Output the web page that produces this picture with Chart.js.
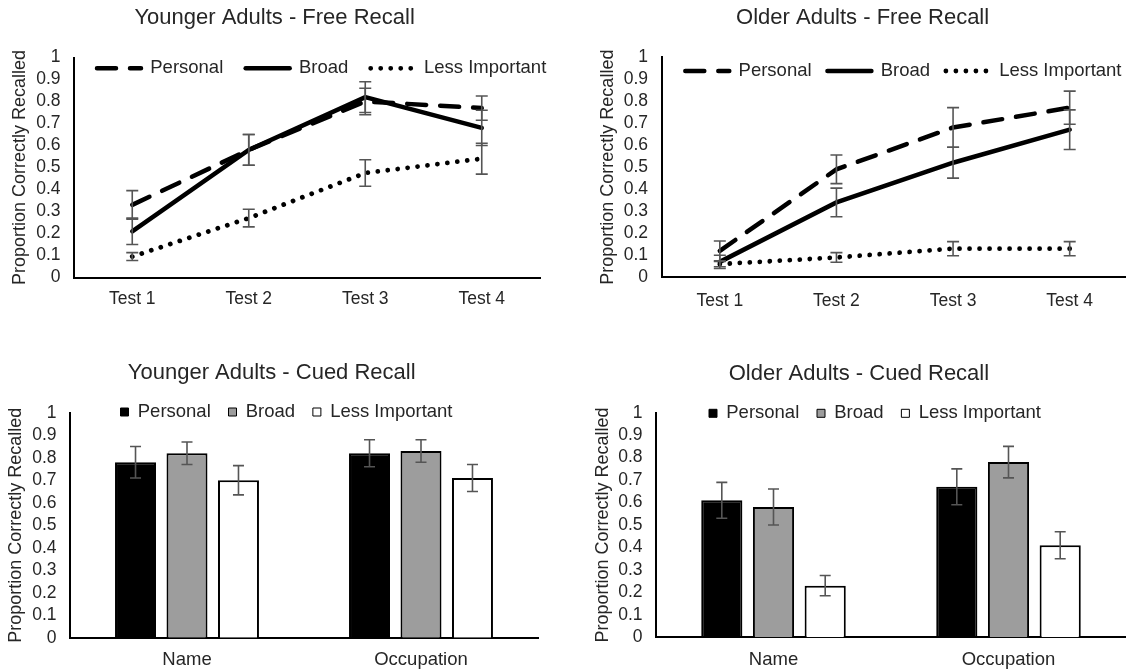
<!DOCTYPE html>
<html>
<head>
<meta charset="utf-8">
<script src="https://cdn.jsdelivr.net/npm/chart.js@4/dist/chart.umd.min.js"></script>
<style>
html, body { margin: 0; padding: 0; background: #fff; overflow: hidden; width: 1126px; height: 670px; }
canvas { position: absolute; }
</style>
</head>
<body>
<canvas id="c1" width="563" height="335" style="left:0px;top:0px"></canvas>
<canvas id="c2" width="566" height="335" style="left:563px;top:0px"></canvas>
<canvas id="c3" width="563" height="335" style="left:0px;top:335px"></canvas>
<canvas id="c4" width="563" height="335" style="left:563px;top:335px"></canvas>
<script>
// ---------------- DATA ----------------
const freeCategories = ['Test 1', 'Test 2', 'Test 3', 'Test 4'];
const cuedCategories = ['Name', 'Occupation'];
const seriesNames = ['Personal', 'Broad', 'Less Important'];
const yAxisTitle = 'Proportion Correctly Recalled';
const panelTitles = ['Younger Adults - Free Recall', 'Older Adults - Free Recall',
                     'Younger Adults - Cued Recall', 'Older Adults - Cued Recall'];

// Younger adults - free recall
const youngFreePersonal    = [0.33, 0.58, 0.80, 0.77];
const youngFreeBroad       = [0.21, 0.58, 0.82, 0.68];
const youngFreeLess        = [0.095, 0.27, 0.475, 0.54];
const youngFreePersonalErr = [0.065, 0.07, 0.06, 0.055];
const youngFreeBroadErr    = [0.06, 0.07, 0.07, 0.08];
const youngFreeLessErr     = [0.018, 0.04, 0.06, 0.07];

// Older adults - free recall
const oldFreePersonal    = [0.12, 0.49, 0.68, 0.77];
const oldFreeBroad       = [0.07, 0.34, 0.52, 0.67];
const oldFreeLess        = [0.06, 0.09, 0.13, 0.13];
const oldFreePersonalErr = [0.045, 0.065, 0.09, 0.075];
const oldFreeBroadErr    = [0.03, 0.065, 0.07, 0.09];
const oldFreeLessErr     = [0.012, 0.022, 0.032, 0.032];

// Younger adults - cued recall
const youngCuedPersonal    = [0.78, 0.82];
const youngCuedBroad       = [0.82, 0.83];
const youngCuedLess        = [0.70, 0.71];
const youngCuedPersonalErr = [0.07, 0.06];
const youngCuedBroadErr    = [0.05, 0.05];
const youngCuedLessErr     = [0.065, 0.06];

// Older adults - cued recall
const oldCuedPersonal    = [0.61, 0.67];
const oldCuedBroad       = [0.58, 0.78];
const oldCuedLess        = [0.23, 0.41];
const oldCuedPersonalErr = [0.08, 0.08];
const oldCuedBroadErr    = [0.08, 0.07];
const oldCuedLessErr     = [0.045, 0.06];

// ---------------- STYLE ----------------
const FONT = "'Liberation Sans', Arial, sans-serif";
const TEXT = '#262626';
const ERR_COLOR = '#555555';

const errorBarPlugin = {
  id: 'errorBars',
  afterDatasetsDraw(chart, args, opts) {
    const ctx = chart.ctx;
    const yScale = chart.scales.y;
    ctx.save();
    ctx.strokeStyle = opts.color;
    ctx.lineWidth = opts.width;
    ctx.setLineDash([]);
    ctx.lineCap = 'butt';
    chart.data.datasets.forEach((ds, di) => {
      const meta = chart.getDatasetMeta(di);
      if (!ds.errors) return;
      meta.data.forEach((el, i) => {
        const v = ds.data[i], e = ds.errors[i];
        const x = el.x;
        const yT = yScale.getPixelForValue(v + e);
        const yB = yScale.getPixelForValue(v - e);
        ctx.beginPath();
        ctx.moveTo(x, yT); ctx.lineTo(x, yB);
        ctx.moveTo(x - opts.cap, yT); ctx.lineTo(x + opts.cap, yT);
        ctx.moveTo(x - opts.cap, yB); ctx.lineTo(x + opts.cap, yB);
        ctx.stroke();
      });
    });
    ctx.restore();
  }
};

const legendPlacer = {
  id: 'legendPlacer',
  afterLayout(chart, args, opts) {
    const lg = chart.legend;
    if (!lg) return;
    lg.left = opts.x - opts.pad;
    lg.right = chart.width + 3000;
    lg.width = lg.right - lg.left;
    lg.top = opts.y - opts.pad - opts.fs / 2;
    lg.bottom = lg.top + opts.fs + 2 * opts.pad;
    lg.height = lg.bottom - lg.top;
  }
};

function lineLegendLabels(chart) {
  return chart.data.datasets.map((ds, i) => ({
    text: ds.label,
    fillStyle: 'rgba(0,0,0,0)',
    strokeStyle: ds.borderColor,
    lineWidth: ds.borderWidth,
    lineDash: ds.borderDash || [],
    lineCap: ds.borderCapStyle,
    pointStyle: 'line',
    hidden: false,
    datasetIndex: i,
    fontColor: TEXT
  }));
}

function barLegendLabels(chart) {
  return chart.data.datasets.map((ds, i) => ({
    text: ds.label,
    fillStyle: ds.backgroundColor,
    strokeStyle: '#000',
    lineWidth: 1,
    hidden: false,
    datasetIndex: i,
    fontColor: TEXT
  }));
}

function lineDatasets(p, b, l, pe, be, le) {
  return [
    { label: seriesNames[0], data: p, errors: pe, borderColor: '#000', borderWidth: 4.5,
      borderDash: [19, 14], borderCapStyle: 'round', pointRadius: 0, tension: 0, fill: false },
    { label: seriesNames[1], data: b, errors: be, borderColor: '#000', borderWidth: 4.5,
      borderDash: [], borderCapStyle: 'round', pointRadius: 0, tension: 0, fill: false },
    { label: seriesNames[2], data: l, errors: le, borderColor: '#000', borderWidth: 4.8,
      borderDash: [0.01, 10], borderCapStyle: 'round', pointRadius: 0, tension: 0, fill: false }
  ];
}

function barDatasets(p, b, l, pe, be, le) {
  const common = { borderColor: '#000', borderWidth: 2, borderSkipped: 'start',
                   categoryPercentage: 0.66, barPercentage: 0.796 };
  return [
    Object.assign({ label: seriesNames[0], data: p, errors: pe, backgroundColor: '#000' }, common),
    Object.assign({ label: seriesNames[1], data: b, errors: be, backgroundColor: '#9d9d9d' }, common),
    Object.assign({ label: seriesNames[2], data: l, errors: le, backgroundColor: '#ffffff' }, common)
  ];
}

function buildPanel(cfg) {
  const titleFs = 22, titleLH = titleFs * 1.2;
  const yTitleFs = 18, yTitleLH = yTitleFs * 1.2;
  const legendFs = 18.5;
  const padLeft = cfg.yTitleX - yTitleLH / 2;
  const yWidth = cfg.area.left - padLeft;
  const xHeight = cfg.canvasH - cfg.area.bottom;
  const tPadTop = cfg.titleY - titleLH / 2;
  const tPadBottom = cfg.area.top - 1 - cfg.titleY - titleLH / 2;
  const isLine = cfg.type === 'line';

  return new Chart(document.getElementById(cfg.id), {
    type: cfg.type,
    data: { labels: cfg.labels, datasets: cfg.datasets },
    options: {
      responsive: false,
      animation: false,
      devicePixelRatio: 1,
      events: [],
      layout: { padding: { left: padLeft, right: cfg.canvasW - cfg.area.right, top: 0, bottom: 0 } },
      plugins: {
        title: {
          display: true, text: cfg.title, color: TEXT,
          font: { family: FONT, size: titleFs, weight: 'normal' },
          padding: { top: tPadTop, bottom: tPadBottom }
        },
        legend: {
          display: true, position: 'top', align: 'start', maxHeight: 1,
          labels: {
            font: { family: FONT, size: legendFs },
            color: TEXT,
            padding: cfg.legend.pad,
            usePointStyle: isLine,
            pointStyleWidth: isLine ? 44 : undefined,
            boxWidth: isLine ? 44 : 8,
            boxHeight: isLine ? legendFs : 8,
            generateLabels: isLine ? lineLegendLabels : barLegendLabels
          }
        },
        tooltip: { enabled: false },
        errorBars: { color: ERR_COLOR, width: 1.6, cap: cfg.cap },
        legendPlacer: { x: cfg.legend.x, y: cfg.legend.y, pad: cfg.legend.pad, fs: legendFs }
      },
      scales: {
        x: {
          type: 'category', offset: true,
          grid: { display: false, drawTicks: false },
          border: { display: true, color: '#000', width: 2 },
          ticks: { color: TEXT, font: { family: FONT, size: cfg.xFs }, padding: cfg.xPad,
                   maxRotation: 0, autoSkip: false },
          afterFit(s) { s.height = xHeight; }
        },
        y: {
          min: 0, max: 1,
          grid: { display: false, drawTicks: false },
          border: { display: true, color: '#000', width: 2 },
          ticks: { stepSize: 0.1, autoSkip: false, color: TEXT,
                   font: { family: FONT, size: 17.5 }, padding: 13.5,
                   callback: (v) => String(Math.round(v * 10) / 10) },
          title: { display: true, text: yAxisTitle, color: TEXT,
                   font: { family: FONT, size: yTitleFs }, padding: 0 },
          afterFit(s) { s.width = yWidth; }
        }
      }
    },
    plugins: [errorBarPlugin, legendPlacer]
  });
}

buildPanel({
  id: 'c1', type: 'line', labels: freeCategories, title: panelTitles[0],
  datasets: lineDatasets(youngFreePersonal, youngFreeBroad, youngFreeLess,
                         youngFreePersonalErr, youngFreeBroadErr, youngFreeLessErr),
  canvasW: 563, canvasH: 335,
  area: { left: 74, right: 540, top: 57.5, bottom: 277.5 },
  titleY: 18.3, yTitleX: 20, xFs: 17.5, xPad: 11.3, cap: 6,
  legend: { x: 97, y: 68.3, pad: 22.4 }
});

buildPanel({
  id: 'c2', type: 'line', labels: freeCategories, title: panelTitles[1],
  datasets: lineDatasets(oldFreePersonal, oldFreeBroad, oldFreeLess,
                         oldFreePersonalErr, oldFreeBroadErr, oldFreeLessErr),
  canvasW: 566, canvasH: 335,
  area: { left: 98.5, right: 565, top: 57, bottom: 277.3 },
  titleY: 18.3, yTitleX: 45, xFs: 17.5, xPad: 13, cap: 6,
  legend: { x: 122.3, y: 71, pad: 15.85 }
});

buildPanel({
  id: 'c3', type: 'bar', labels: cuedCategories, title: panelTitles[2],
  datasets: barDatasets(youngCuedPersonal, youngCuedBroad, youngCuedLess,
                        youngCuedPersonalErr, youngCuedBroadErr, youngCuedLessErr),
  canvasW: 563, canvasH: 335,
  area: { left: 70, right: 538, top: 77.7, bottom: 302.8 },
  titleY: 38.3, yTitleX: 16.2, xFs: 18.5, xPad: 11.4, cap: 5.5,
  legend: { x: 120.5, y: 77, pad: 17.75 }
});

buildPanel({
  id: 'c4', type: 'bar', labels: cuedCategories, title: panelTitles[3],
  datasets: barDatasets(oldCuedPersonal, oldCuedBroad, oldCuedLess,
                        oldCuedPersonalErr, oldCuedBroadErr, oldCuedLessErr),
  canvasW: 563, canvasH: 335,
  area: { left: 93, right: 563, top: 77.7, bottom: 302.3 },
  titleY: 39, yTitleX: 39.6, xFs: 18.5, xPad: 11.9, cap: 5.5,
  legend: { x: 146, y: 78.3, pad: 17.75 }
});
</script>
</body>
</html>
